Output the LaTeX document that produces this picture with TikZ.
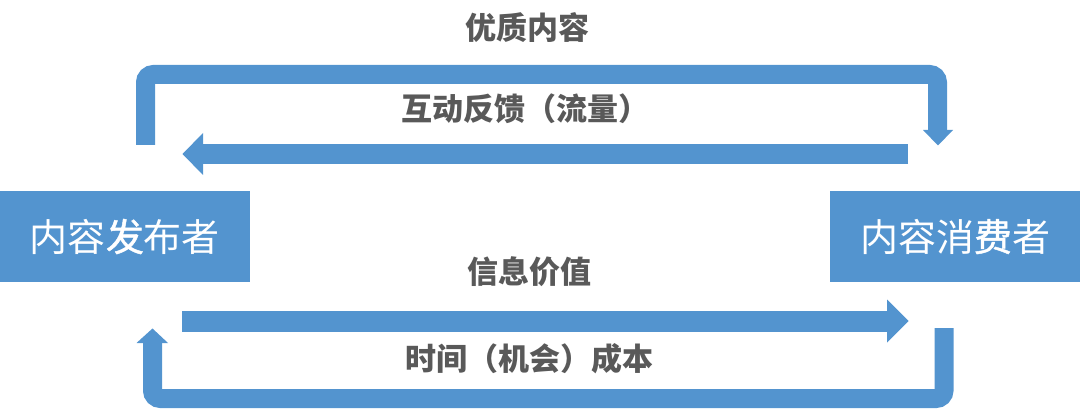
\documentclass[tikz,border=0pt]{standalone}
\usepackage{fontspec}
\newfontfamily\cjk{Noto Sans CJK SC}
\newfontfamily\cjkheavy{Noto Sans CJK SC}[FakeBold=1.2]
\definecolor{flowblue}{RGB}{83,148,207}
\definecolor{labelgray}{RGB}{89,89,89}
\tikzset{
  actor/.style={fill=flowblue, minimum width=250pt, minimum height=91pt, inner sep=0pt, text=white, font=\cjk\fontsize{38pt}{42pt}\selectfont},
  lbl/.style={text=labelgray, inner sep=0pt, font=\cjk\bfseries\fontsize{31pt}{34pt}\selectfont},
  band/.style={draw=flowblue, line cap=butt, line join=miter},
  tip/.style={fill=flowblue, draw=none}
}
\begin{document}
\begin{tikzpicture}[x=1pt,y=-1pt]
\useasboundingbox (0,0) rectangle (1080,409);
% actors
\node[actor] (pub) at (125,236.5) {内容{\cjkheavy 发}布者};
\node[actor] (con) at (955,236.5) {内容消{\cjkheavy 费}者};
% coordinates
\coordinate (a1s) at (145.5,145);
\coordinate (a1c1) at (145.5,74.5);
\coordinate (a1c2) at (937.5,74.5);
\coordinate (a1e) at (937.5,130.5);
\coordinate (a2s) at (908,154);
\coordinate (a2e) at (202.5,154);
\coordinate (a3s) at (182,321);
\coordinate (a3e) at (887.5,321);
\coordinate (a4s) at (944,328);
\coordinate (a4c1) at (944,398.5);
\coordinate (a4c2) at (152.5,398.5);
\coordinate (a4e) at (152.5,342.5);
% top bent arrow
\draw[band, line width=19pt, rounded corners=8pt] (a1s) -- (a1c1) -- (a1c2) -- (a1e);
\fill[tip] (923,130) -- (953,130) -- (938,145.5) -- cycle;
% feedback arrow
\draw[band, line width=20pt] (a2s) -- (a2e);
\fill[tip] (203,133) -- (203,175) -- (182.5,154) -- cycle;
% value arrow
\draw[band, line width=21pt] (a3s) -- (a3e);
\fill[tip] (887,299.5) -- (887,342.5) -- (908.5,321) -- cycle;
% bottom bent arrow
\draw[band, line width=19pt, rounded corners=8pt] (a4s) -- (a4c1) -- (a4c2) -- (a4e);
\fill[tip] (136.5,343) -- (168,343) -- (152.5,328.5) -- cycle;
% labels
\node[lbl] (l1) at (527.5,28) {优质内容};
\node[lbl] (l2) at (525,109) {互动反馈（流量）};
\node[lbl] (l3) at (529.5,272) {信息价值};
\node[lbl] (l4) at (529.5,359) {时间（机会）成本};
\end{tikzpicture}
\end{document}
